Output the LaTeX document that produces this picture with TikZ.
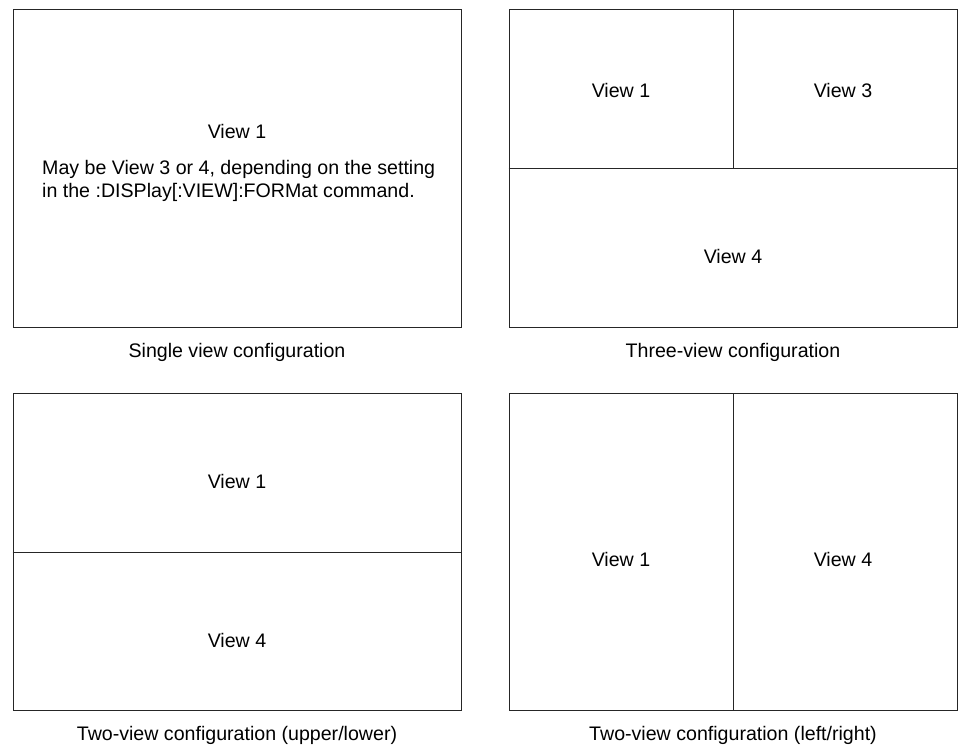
\documentclass[tikz,border=0pt]{standalone}
\usepackage{fontspec}
\setmainfont{Liberation Sans}
\begin{document}
\begin{tikzpicture}[x=1pt,y=-1pt,
  panel/.style={draw=black!85,line width=1pt,minimum width=448pt,minimum height=317pt,inner sep=0pt},
  divider/.style={draw=black!85,line width=1pt},
  lbl/.style={font=\fontsize{19.6}{23}\selectfont,inner sep=0pt},
  captext/.style={font=\fontsize{19.6}{23}\selectfont,inner sep=0pt}]
\useasboundingbox (0,0) rectangle (958,746);
% panels
\node[panel] (p1) at (237,168.5) {};
\node[panel] (p2) at (733,168.5) {};
\node[panel] (p3) at (237,552) {};
\node[panel] (p4) at (733,552) {};
% dividers
\draw[divider] (p2.west) -- (p2.east);
\draw[divider] (p2.north) -- (p2.center);
\draw[divider] (p3.west) -- (p3.east);
\draw[divider] (p4.north) -- (p4.south);
% single view
\node[lbl] (s1) at (237,131) {View 1};
\node[lbl,anchor=west,align=left] (s2) at (42,180.5) {May be View 3 or 4, depending on the setting\\in the :DISPlay[:VIEW]:FORMat command.};
% three view
\node[lbl] (t1) at (621,90.5) {View 1};
\node[lbl] (t3) at (843,90.5) {View 3};
\node[lbl] (t4) at (733,256) {View 4};
% two view upper/lower
\node[lbl] (u1) at (237,481) {View 1};
\node[lbl] (u4) at (237,640) {View 4};
% two view left/right
\node[lbl] (r1) at (621,559) {View 1};
\node[lbl] (r4) at (843,559) {View 4};
% captions
\node[captext] (c1) at (237,352) {Single view configuration};
\node[captext] (c2) at (733,352) {Three-view configuration};
\node[captext] (c3) at (237,735) {Two-view configuration (upper/lower)};
\node[captext] (c4) at (733,735) {Two-view configuration (left/right)};
\end{tikzpicture}
\end{document}
